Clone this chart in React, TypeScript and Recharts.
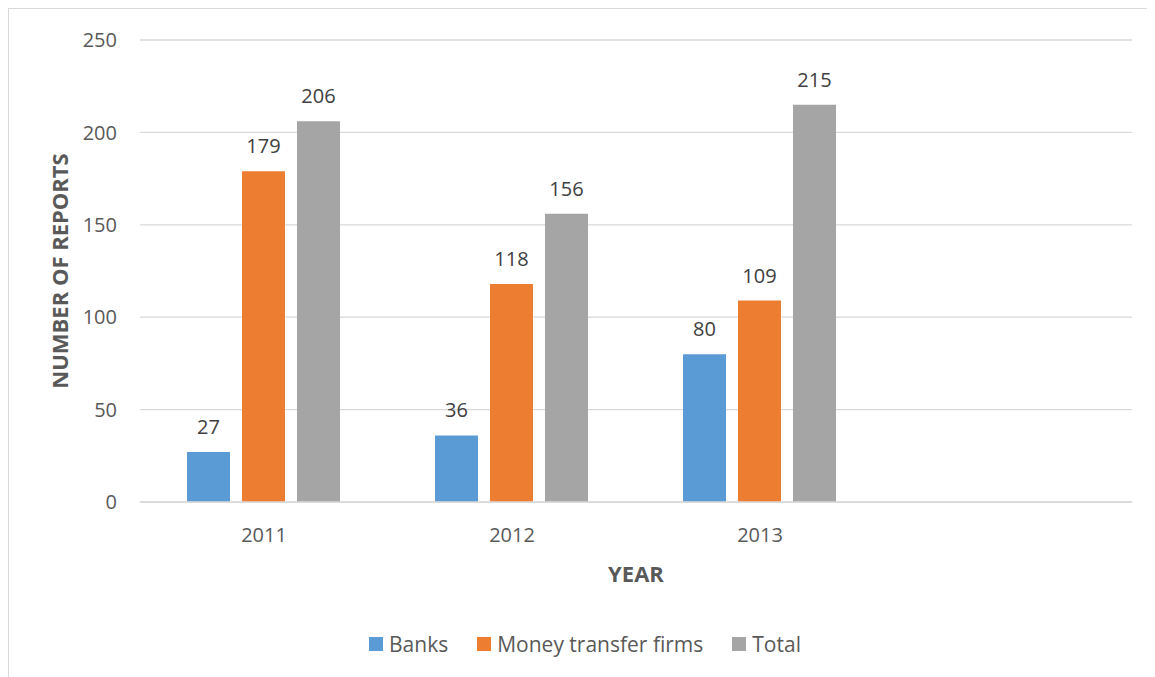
import React from 'react';
import { BarChart, Bar, XAxis, YAxis, CartesianGrid, Legend, LabelList } from 'recharts';

const years = ['2011', '2012', '2013', ''];
const banks = [27, 36, 80, null];
const moneyTransfer = [179, 118, 109, null];
const total = [206, 156, 215, null];
const yTicks = [0, 50, 100, 150, 200, 250];

const seriesNames = ['Banks', 'Money transfer firms', 'Total'];
const seriesColors = ['#5B9BD5', '#ED7D31', '#A5A5A5'];

const data = years.map((year, i) => ({
  year,
  banks: banks[i],
  money: moneyTransfer[i],
  total: total[i],
}));

const FONT = '"Open Sans", sans-serif';

const LegendContent = () => (
  <div style={{ display: 'flex', justifyContent: 'center', alignItems: 'center', fontFamily: FONT, fontSize: 21, color: '#595959' }}>
    {seriesNames.map((name, i) => (
      <div key={name} style={{ display: 'flex', alignItems: 'center', marginRight: i < seriesNames.length - 1 ? 29 : 0 }}>
        <span style={{ width: 14, height: 14, background: seriesColors[i], marginRight: 6, display: 'inline-block' }} />
        <span>{name}</span>
      </div>
    ))}
  </div>
);

const labelFmt = (v: any) => (v == null ? '' : v);

export default function App() {
  return (
    <div style={{ width: 1147, height: 669, borderLeft: '1px solid #d9d9d9', borderTop: '1px solid #d9d9d9', background: '#fff' }}>
      <BarChart
        width={1146}
        height={668}
        data={data}
        margin={{ top: 31, right: 23, left: 0, bottom: 145 }}
        barCategoryGap={47}
        barGap={12}
      >
        <CartesianGrid vertical={false} stroke="#d9d9d9" strokeWidth={1.3} />
        <XAxis
          dataKey="year"
          height={30}
          tickLine={false}
          tickSize={0}
          tickMargin={26}
          axisLine={{ stroke: '#d9d9d9', strokeWidth: 1.3 }}
          tick={{ fill: '#595959', fontSize: 20, fontFamily: FONT }}
          label={(props: any) => {
            const vb = props.viewBox;
            return (
              <text x={vb.x + vb.width / 2} y={573} textAnchor="middle" fill="#595959" fontFamily={FONT} fontWeight={700} fontSize={22}>
                YEAR
              </text>
            );
          }}
        />
        <YAxis
          width={131}
          domain={[0, 250]}
          ticks={yTicks}
          axisLine={false}
          tickLine={false}
          tickSize={0}
          tickMargin={23}
          tick={{ fill: '#595959', fontSize: 20, fontFamily: FONT }}
          label={(props: any) => {
            const vb = props.viewBox;
            const cx = vb.x + 50;
            const cy = vb.y + vb.height / 2;
            return (
              <text x={cx} y={cy} transform={`rotate(-90, ${cx}, ${cy})`} textAnchor="middle" dominantBaseline="central" fill="#595959" fontFamily={FONT} fontWeight={700} fontSize={22}>
                NUMBER OF REPORTS
              </text>
            );
          }}
        />
        <Legend
          verticalAlign="middle"
          align="center"
          content={<LegendContent />}
          wrapperStyle={{ top: 621, left: 0, width: 1152, height: 28 }}
        />
        <Bar dataKey="banks" name={seriesNames[0]} fill={seriesColors[0]} isAnimationActive={false}>
          <LabelList dataKey="banks" position="top" offset={18} formatter={labelFmt} fill="#404040" fontSize={20} fontFamily={FONT} />
        </Bar>
        <Bar dataKey="money" name={seriesNames[1]} fill={seriesColors[1]} isAnimationActive={false}>
          <LabelList dataKey="money" position="top" offset={18} formatter={labelFmt} fill="#404040" fontSize={20} fontFamily={FONT} />
        </Bar>
        <Bar dataKey="total" name={seriesNames[2]} fill={seriesColors[2]} isAnimationActive={false}>
          <LabelList dataKey="total" position="top" offset={18} formatter={labelFmt} fill="#404040" fontSize={20} fontFamily={FONT} />
        </Bar>
      </BarChart>
    </div>
  );
}
